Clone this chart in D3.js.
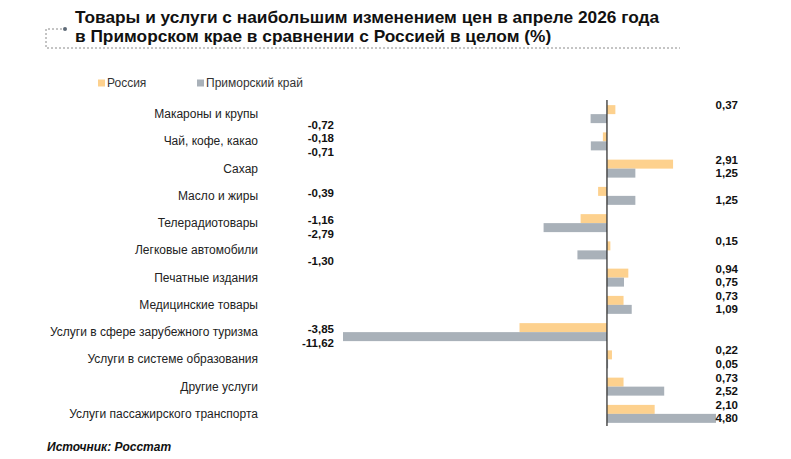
<!DOCTYPE html>
<html>
<head>
<meta charset="utf-8">
<script src="https://cdn.jsdelivr.net/npm/d3@7"></script>
<style>
  body { margin: 0; background: #fff; }
  svg { display: block; font-family: "Liberation Sans", Arial, sans-serif; }
</style>
</head>
<body>
<div id="chart"></div>
<script>
// Price changes, April 2026: Primorsky Krai vs Russia (%)
const categories = [
    "Макароны и крупы",
    "Чай, кофе, какао",
    "Сахар",
    "Масло и жиры",
    "Телерадиотовары",
    "Легковые автомобили",
    "Печатные издания",
    "Медицинские товары",
    "Услуги в сфере зарубежного туризма",
    "Услуги в системе образования",
    "Другие услуги",
    "Услуги пассажирского транспорта"
];
const russia   = [0.37, -0.18, 2.91, -0.39, -1.16, 0.15, 0.94, 0.73, -3.85, 0.22, 0.73, 2.10];
const primorye = [-0.72, -0.71, 1.25, 1.25, -2.79, -1.30, 0.75, 1.09, -11.62, 0.05, 2.52, 4.80];
const seriesNames = ["Россия", "Приморский край"];
const colors = ["#fdd18e", "#a9b1b9"];

const width = 791, height = 459;

const svg = d3.select("#chart").append("svg")
    .attr("width", width)
    .attr("height", height);

// Title block with dashed frame
const title = svg.append("g");
title.append("path")
    .attr("d", "M62,29 H46 V48 H680")
    .attr("fill", "none")
    .attr("stroke", "#8a8a8a")
    .attr("stroke-width", 1)
    .attr("stroke-dasharray", "2,2");
title.append("circle")
    .attr("cx", 65).attr("cy", 29).attr("r", 2)
    .attr("fill", "#5f6b78");
title.selectAll("text")
    .data(["Товары и услуги с наибольшим изменением цен в апреле 2026 года",
           "в Приморском крае в сравнении с Россией в целом (%)"])
    .enter().append("text")
    .attr("x", 75)
    .attr("y", (d, i) => 22.5 + i * 19)
    .attr("font-size", 17.3)
    .attr("font-weight", "bold")
    .attr("fill", "#111")
    .text(d => d);

// Legend
const legend = svg.append("g").attr("transform", "translate(98,83)");
const legendItems = legend.selectAll("g")
    .data(seriesNames)
    .enter().append("g")
    .attr("transform", (d, i) => `translate(${i * 99},0)`);
legendItems.append("rect")
    .attr("x", 0).attr("y", -3.5)
    .attr("width", 7).attr("height", 7)
    .attr("fill", (d, i) => colors[i]);
legendItems.append("text")
    .attr("x", 9).attr("y", 4)
    .attr("font-size", 12)
    .attr("fill", "#333")
    .text(d => d);

// Scales
const x = d3.scaleLinear()
    .domain([d3.min(primorye), d3.max(primorye)])
    .range([343, 716]);

const y = d3.scaleBand()
    .domain(categories)
    .range([100.5, 427.5])
    .paddingInner(0.34)
    .paddingOuter(0.17);

const sub = d3.scaleBand()
    .domain([0, 1])
    .range([0, y.bandwidth()]);

const rows = categories.map((c, i) => ({ cat: c, vals: [russia[i], primorye[i]] }));

// Category labels
svg.append("g").selectAll("text")
    .data(categories)
    .enter().append("text")
    .attr("x", 258)
    .attr("y", d => y(d) + y.bandwidth() / 2 + 4)
    .attr("text-anchor", "end")
    .attr("font-size", 12)
    .attr("fill", "#222")
    .text(d => d);

// Bars
const groups = svg.append("g").selectAll("g")
    .data(rows)
    .enter().append("g")
    .attr("transform", d => `translate(0,${y(d.cat)})`);

groups.selectAll("rect")
    .data(d => d.vals)
    .enter().append("rect")
    .attr("x", v => x(Math.min(0, v)))
    .attr("y", (v, i) => sub(i))
    .attr("width", v => Math.abs(x(v) - x(0)))
    .attr("height", sub.bandwidth())
    .attr("fill", (v, i) => colors[i]);

// Value labels: negatives in a left column, positives in a right column
const fmt = v => v.toFixed(2).replace(".", ",");
groups.selectAll("text")
    .data(d => d.vals)
    .enter().append("text")
    .attr("x", v => v < 0 ? 334 : 738)
    .attr("y", (v, i) => sub(i) + sub.bandwidth() / 2 + 4 + (v < 0 ? 1.5 : -4.5) + 4.5 * i)
    .attr("text-anchor", "end")
    .attr("font-size", 11.5)
    .attr("font-weight", "bold")
    .attr("fill", "#111")
    .text(fmt);

// Zero axis
svg.append("line")
    .attr("x1", x(0)).attr("x2", x(0))
    .attr("y1", 100).attr("y2", 426)
    .attr("stroke", "#333")
    .attr("stroke-width", 1.3);

// Source
svg.append("text")
    .attr("x", 47).attr("y", 451)
    .attr("font-size", 12)
    .attr("font-weight", "bold")
    .attr("font-style", "italic")
    .attr("fill", "#111")
    .text("Источник: Росстат");
</script>
</body>
</html>
